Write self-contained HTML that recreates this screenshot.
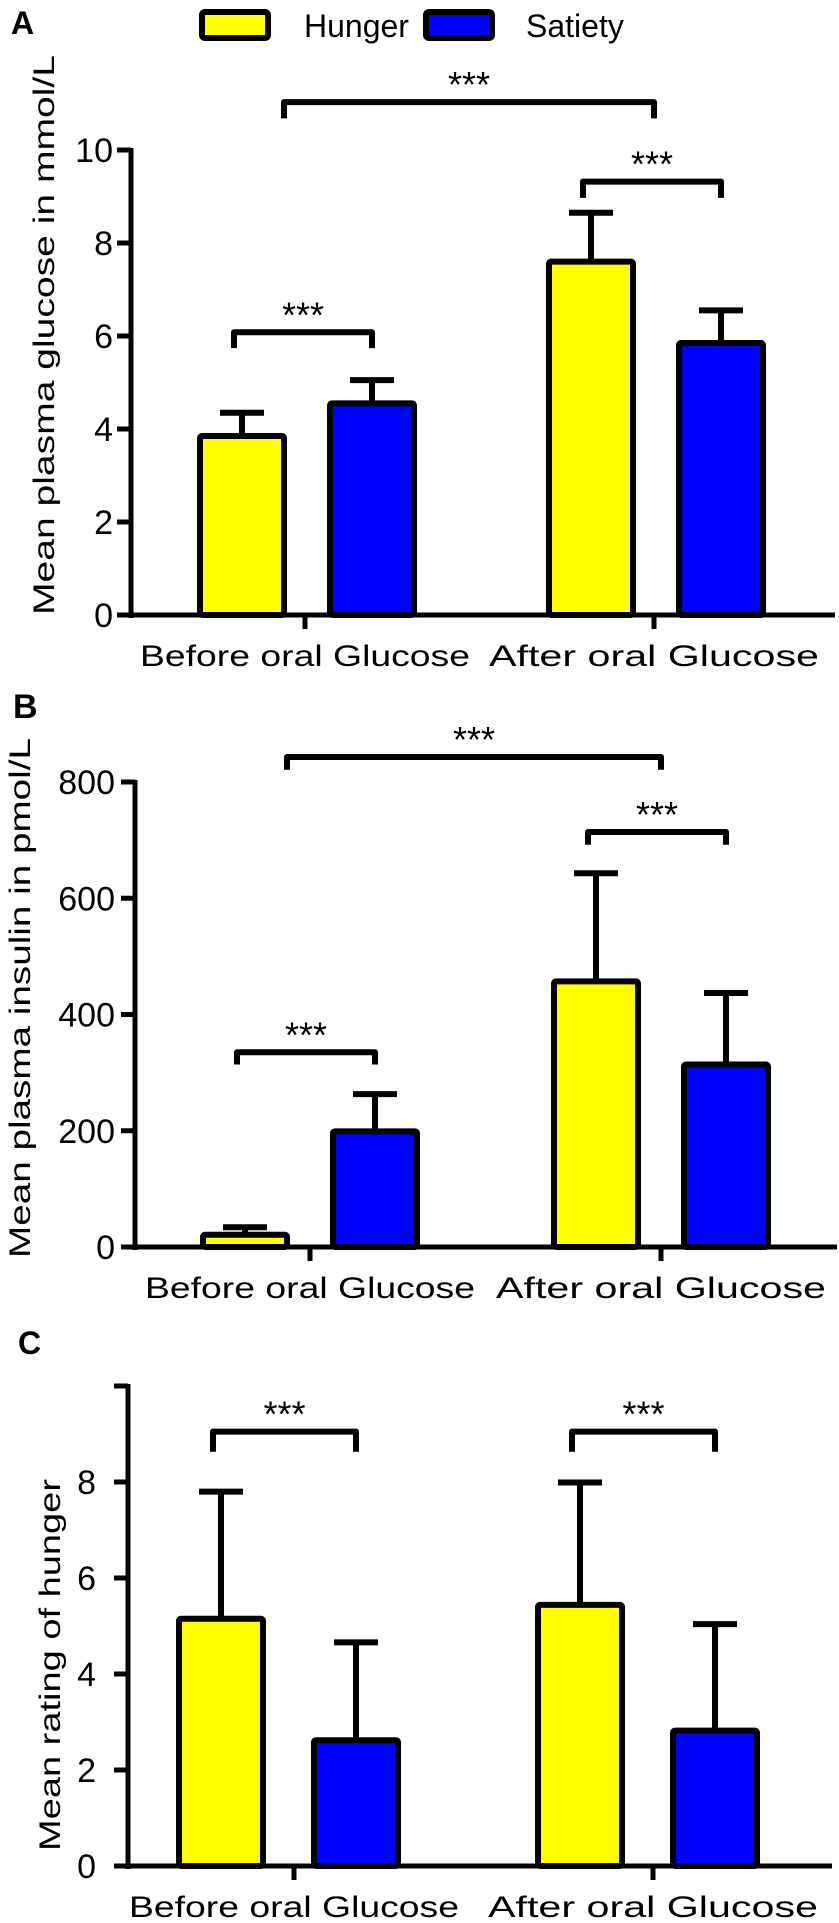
<!DOCTYPE html>
<html><head><meta charset="utf-8"><style>
html,body{margin:0;padding:0;background:#fff}
svg{display:block}
text{font-family:"Liberation Sans",sans-serif;fill:#000}
</style></head><body>
<svg id="chart" width="839" height="1923" viewBox="0 0 839 1923" xmlns="http://www.w3.org/2000/svg">
  <g>
    <rect x="202" y="12" width="66" height="26" rx="3" fill="#ffff00" stroke="#000" stroke-width="6"/>
    <text x="304" y="37" font-size="32">Hunger</text>
    <rect x="426" y="12" width="66" height="26" rx="3" fill="#0000ff" stroke="#000" stroke-width="6"/>
    <text x="526" y="37" font-size="32">Satiety</text>
  </g>
  <text x="11" y="34" font-size="32" font-weight="bold">A</text>
  <text x="13" y="718" font-size="34" font-weight="bold">B</text>
  <text x="18" y="1354" font-size="32" font-weight="bold">C</text>
</svg>
<script>
// Panel A: glucose (mmol/L)
const catsA = ["Before oral Glucose", "After oral Glucose"];
const hungerA = [3.85, 7.6];
const hungerErrA = [4.35, 8.65];
const satietyA = [4.55, 5.85];
const satietyErrA = [5.05, 6.55];
const ticksA = [0, 2, 4, 6, 8, 10];
const tickLabelsA = ["0", "2", "4", "6", "8", "10"];
const bracketsA = [[0, 6.08, 5.74], [2, 11.03, 10.68], [1, 9.32, 8.97]];

// Panel B: insulin (pmol/L)
const catsB = ["Before oral Glucose", "After oral Glucose"];
const hungerB = [21, 457];
const hungerErrB = [34, 643];
const satietyB = [199, 314];
const satietyErrB = [263, 437];
const ticksB = [0, 200, 400, 600, 800];
const tickLabelsB = ["0", "200", "400", "600", "800"];
const bracketsB = [[0, 335, 314], [2, 843, 821], [1, 714, 692]];

// Panel C: hunger rating
const catsC = ["Before oral Glucose", "After oral Glucose"];
const hungerC = [5.15, 5.44];
const hungerErrC = [7.8, 7.99];
const satietyC = [2.62, 2.82];
const satietyErrC = [4.66, 5.04];
const ticksC = [0, 2, 4, 6, 8, 10];
const tickLabelsC = ["0", "2", "4", "6", "8", ""];
const bracketsC = [[0, 9.05, 8.63], [1, 9.05, 8.63]];

const NS = "http://www.w3.org/2000/svg";
const svg = document.getElementById("chart");
function mk(tag, attrs, parent) {
  const e = document.createElementNS(NS, tag);
  for (const k in attrs) e.setAttribute(k, attrs[k]);
  (parent || svg).appendChild(e);
  return e;
}

function panel(p) {
  const g = mk("g", {});
  
  
  const y = v => p.y0 - (v - p.vmin) / (p.vmax - p.vmin) * (p.y0 - p.y1);
  const catX = i => p.catX[i];
  const ya = mk("line", {x1: p.ax, y1: y(p.vmax) - 2, x2: p.ax, y2: p.y0 + 3, stroke: "#000", "stroke-width": 5}, g);
  
  
  const xa = mk("line", {x1: p.xStart, y1: p.y0, x2: p.xEnd, y2: p.y0, stroke: "#000", "stroke-width": 5}, g);
  
  
  p.ticks.forEach((t, i) => {
    const ty = y(t);
    const tl = mk("line", {x1: p.ax - 14, y1: ty, x2: p.ax, y2: ty, stroke: "#000", "stroke-width": 5}, g);
    
    
    if (p.tickLabels[i] !== "") {
      const tx = mk("text", {x: p.labR, y: ty + 12, "font-size": 34, "text-anchor": "end"}, g);
      
      
      tx.textContent = p.tickLabels[i];
    }
  });
  const yt = mk("text", {x: 0, y: 0, "font-size": 30, "text-anchor": "middle", transform: `translate(${p.titleX},${p.titleY}) rotate(-90)`, textLength: p.titleLen, lengthAdjust: "spacingAndGlyphs"}, g);
  
  
  yt.textContent = p.title;
  p.cats.forEach((c, i) => {
    const cx = catX(i);
    const ct = mk("line", {x1: cx, y1: p.y0, x2: cx, y2: p.y0 + 14, stroke: "#000", "stroke-width": 5}, g);
    
    
    const cl = mk("text", {x: cx, y: p.y0 + 51, "font-size": 30, "text-anchor": "middle", textLength: 330, lengthAdjust: "spacingAndGlyphs"}, g);
    
    
    cl.textContent = c;
    [[p.hunger, p.hungerErr, p.hOff, "#ffff00", "hunger"], [p.satiety, p.satietyErr, p.sOff, "#0000ff", "satiety"]].forEach(s => {
      const bc = cx + s[2];
      const v = s[0][i], ev = s[1][i];
      const el = mk("line", {x1: bc, y1: y(v), x2: bc, y2: y(ev), stroke: "#000", "stroke-width": 6}, g);
      
      
      const cap = mk("line", {x1: bc - 22, y1: y(ev), x2: bc + 22, y2: y(ev), stroke: "#000", "stroke-width": 6}, g);
      
      
      const r = mk("rect", {x: bc - 42, y: y(v), width: 84, height: p.y0 - y(v), fill: s[3], stroke: "#000", "stroke-width": 6, rx: 2}, g);
      
      
    });
  });
  p.brackets.forEach(b => {
    let x1, x2;
    if (b[0] === 2) { x1 = catX(0) + p.hOff + 42; x2 = catX(1); }
    else { x1 = catX(b[0]) + p.hOff - 8; x2 = catX(b[0]) + p.sOff; }
    const by = y(b[1]), bd = y(b[2]);
    const br = mk("path", {d: `M${x1},${bd} L${x1},${by} L${x2},${by} L${x2},${bd}`, fill: "none", stroke: "#000", "stroke-width": 6, "stroke-linejoin": "round"}, g);
    
    
    const st = mk("text", {x: (x1 + x2) / 2, y: by - 5, "font-size": 36, "text-anchor": "middle"}, g);
    
    
    st.textContent = "***";
  });
}

panel({name: "panel-a-glucose", cats: catsA, hunger: hungerA, hungerErr: hungerErrA, satiety: satietyA, satietyErr: satietyErrA,
  ticks: ticksA, tickLabels: tickLabelsA, brackets: bracketsA, vmin: 0, vmax: 10, y0: 615, y1: 150,
  ax: 131, xStart: 131, xEnd: 835, labR: 113, catX: [305, 654], hOff: -63, sOff: 67,
  title: "Mean plasma glucose in mmol/L", titleX: 54, titleY: 335, titleLen: 560});
panel({name: "panel-b-insulin", cats: catsB, hunger: hungerB, hungerErr: hungerErrB, satiety: satietyB, satietyErr: satietyErrB,
  ticks: ticksB, tickLabels: tickLabelsB, brackets: bracketsB, vmin: 0, vmax: 800, y0: 1247, y1: 782,
  ax: 135, xStart: 122, xEnd: 837, labR: 115, catX: [310, 661], hOff: -65, sOff: 65,
  title: "Mean plasma insulin in pmol/L", titleX: 30, titleY: 998, titleLen: 520});
panel({name: "panel-c-hunger-rating", cats: catsC, hunger: hungerC, hungerErr: hungerErrC, satiety: satietyC, satietyErr: satietyErrC,
  ticks: ticksC, tickLabels: tickLabelsC, brackets: bracketsC, vmin: 0, vmax: 10, y0: 1866, y1: 1386,
  ax: 128, xStart: 114, xEnd: 832, labR: 96, catX: [294, 653], hOff: -73, sOff: 62,
  title: "Mean rating of hunger", titleX: 60, titleY: 1665, titleLen: 372});
</script>
</body></html>
